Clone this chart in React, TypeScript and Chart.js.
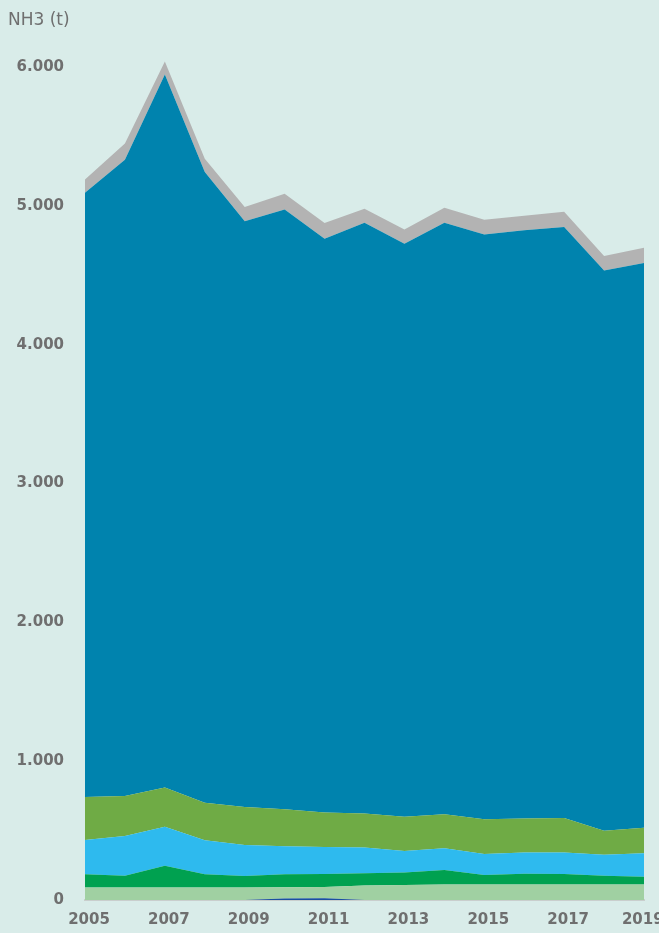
import React, { useEffect, useRef } from 'react';
import { Chart, registerables } from 'chart.js';
Chart.register(...registerables);

const years = ['2005','2006','2007','2008','2009','2010','2011','2012','2013','2014','2015','2016','2017','2018','2019'];
const sourceDarkBlue = [0, 0, 0, 0, 0, 10, 12, 0, 0, 0, 0, 0, 0, 0, 0];
const sourceLightGreen = [90, 90, 90, 90, 90, 82, 82, 105, 108, 112, 112, 112, 112, 112, 112];
const sourceGreen = [95, 85, 157, 95, 83, 93, 93, 87, 90, 104, 68, 77, 75, 63, 56];
const sourceLightBlue = [247, 286, 281, 245, 223, 202, 195, 186, 155, 156, 151, 154, 156, 151, 168];
const sourceOlive = [310, 288, 283, 271, 274, 266, 249, 246, 247, 245, 250, 245, 247, 173, 185];
const sourceBlue = [4353, 4584, 5136, 4543, 4219, 4322, 4133, 4255, 4128, 4262, 4214, 4236, 4258, 4035, 4068];
const sourceGray = [96, 117, 94, 96, 103, 113, 113, 101, 103, 108, 106, 106, 110, 105, 110];
const yTickValues = [0, 1000, 2000, 3000, 4000, 5000, 6000];

const BG = '#d9ece9';
const TXT = '#6f6f6f';

export default function App() {
  const ref = useRef<HTMLCanvasElement>(null);
  useEffect(() => {
    document.body.style.margin = '0';
    document.body.style.background = BG;
    const mk = (label: string, data: number[], color: string, fill: any) => ({
      label, data, backgroundColor: color, borderColor: color, borderWidth: 0,
      pointRadius: 0, pointHoverRadius: 0, fill, tension: 0,
    });
    const chart = new Chart(ref.current!, {
      type: 'line',
      data: {
        labels: years,
        datasets: [
          mk('a', sourceDarkBlue, '#1a4fa0', 'origin'),
          mk('b', sourceLightGreen, '#a0d0a2', '-1'),
          mk('c', sourceGreen, '#00a150', '-1'),
          mk('d', sourceLightBlue, '#2ebaee', '-1'),
          mk('e', sourceOlive, '#6fab45', '-1'),
          mk('f', sourceBlue, '#0083ae', '-1'),
          mk('g', sourceGray, '#b3b3b3', '-1'),
        ],
      },
      options: {
        responsive: false,
        animation: false,
        layout: { padding: { left: 8, right: 15, top: 0, bottom: 0 } },
        plugins: {
          legend: { display: false },
          tooltip: { enabled: false },
          title: {
            display: true, text: 'NH3 (t)', align: 'start', color: TXT,
            font: { family: 'DejaVu Sans', size: 17, weight: 'normal' },
            padding: { top: 10, bottom: 2 },
          },
        },
        scales: {
          x: {
            type: 'category',
            offset: false,
            grid: { display: false, drawTicks: false },
            border: { display: true, color: '#c9cecd', width: 2 },
            ticks: {
              autoSkip: false, maxRotation: 0, minRotation: 0, padding: 11, labelOffset: 4,
              color: TXT, font: { family: 'DejaVu Sans', size: 15, weight: 'bold' },
              callback: (_v: any, i: number) =>
                i === years.length - 1 ? years[i] + '  ' : (i % 2 === 0 ? years[i] : ''),
            },
            afterFit: (s: any) => { s.height = 33; s.paddingLeft = 0; s.paddingRight = 0; },
          },
          y: {
            stacked: true,
            min: 0, max: 6250,
            grid: { display: false, drawTicks: false },
            border: { display: false },
            ticks: {
              autoSkip: false, includeBounds: false, padding: 21, color: TXT,
              font: { family: 'DejaVu Sans', size: 15, weight: 'bold' },
              callback: (v: any) => (v === 0 ? '0' : `${Math.round(v / 1000)}.000`),
            },
            afterBuildTicks: (s: any) => { s.ticks = yTickValues.map((value) => ({ value })); },
            afterFit: (s: any) => { s.width = 77; s.paddingTop = 0; s.paddingBottom = 0; },
          },
        },
      } as any,
    });
    return () => chart.destroy();
  }, []);
  return (
    <div style={{ position: 'fixed', left: 0, top: 0, width: 659, height: 933, background: BG }}>
      <canvas ref={ref} width={659} height={933} style={{ display: 'block' }} />
    </div>
  );
}
